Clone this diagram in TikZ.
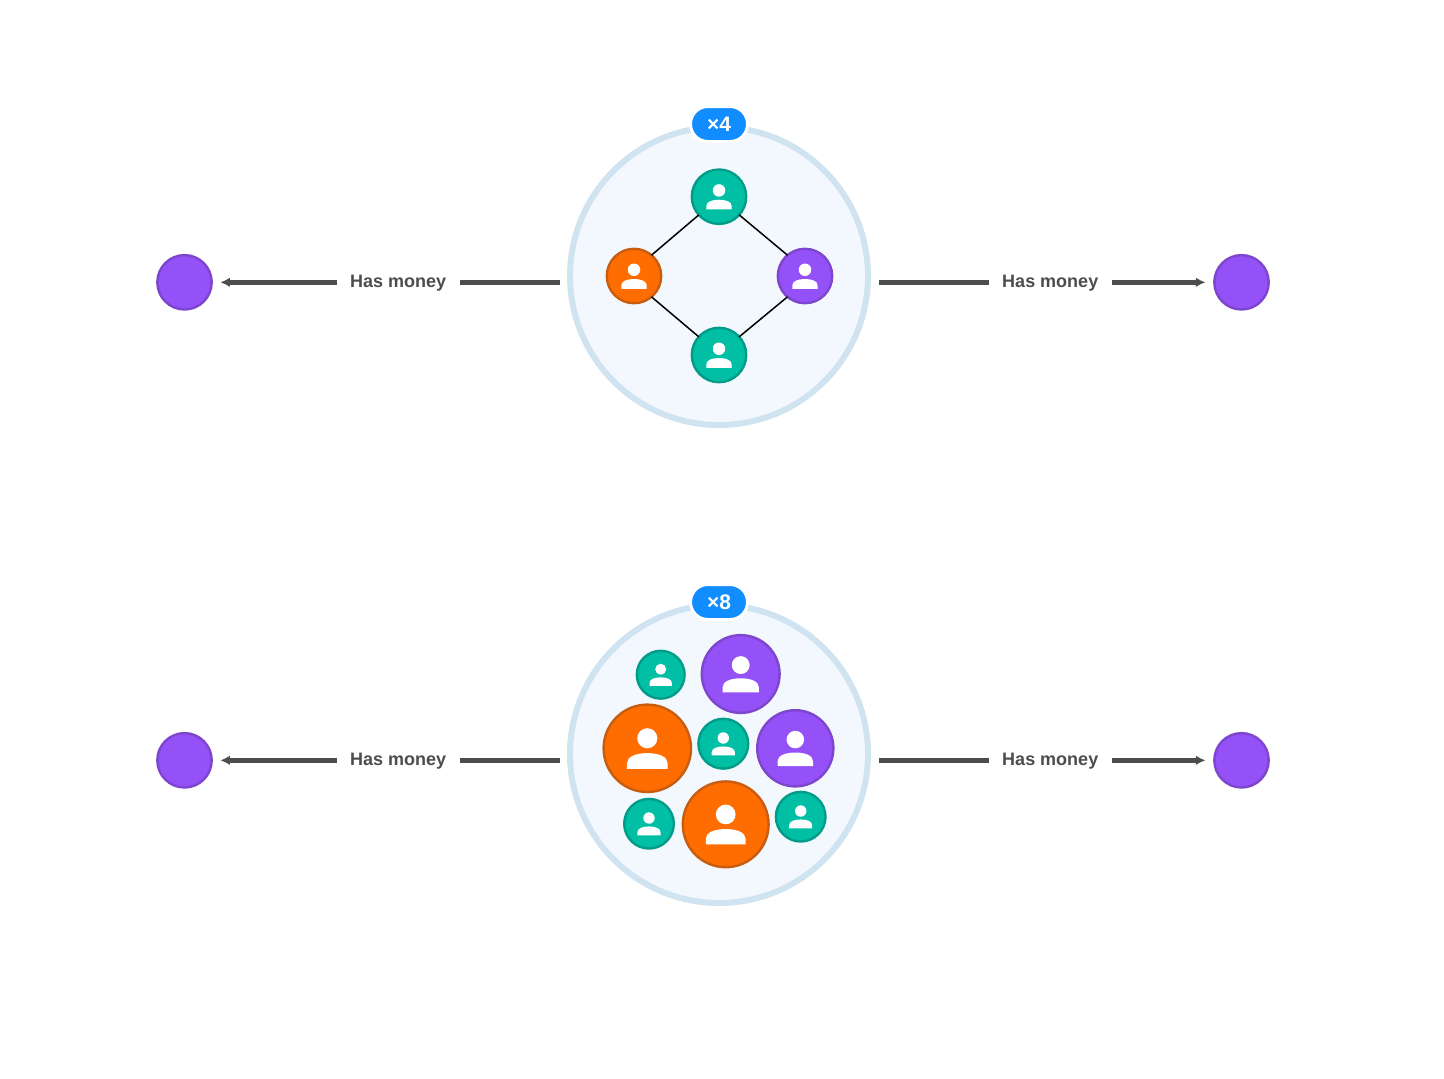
\documentclass[tikz,border=0pt]{standalone}
\usepackage{fontspec}
\setmainfont{Liberation Sans}
\usetikzlibrary{arrows.meta}
\definecolor{teal1}{HTML}{00BFA5}
\definecolor{teal2}{HTML}{009C88}
\definecolor{orange1}{HTML}{FF6D00}
\definecolor{orange2}{HTML}{C85C10}
\definecolor{purple1}{HTML}{9351F7}
\definecolor{purple2}{HTML}{7D46CC}
\definecolor{groupfill}{HTML}{F3F8FE}
\definecolor{groupline}{HTML}{D0E3F1}
\definecolor{badge}{HTML}{118DFF}
\definecolor{ink}{HTML}{4D4D4D}
\tikzset{
  px/.style={x=0.5pt,y=-0.5pt},
  dot/.style={circle,inner sep=0pt,outer sep=0pt,line width=1.2pt},
  tealdot/.style={dot,fill=teal1,draw=teal2},
  orangedot/.style={dot,fill=orange1,draw=orange2},
  purpledot/.style={dot,fill=purple1,draw=purple2},
  group/.style={circle,inner sep=0pt,outer sep=0pt,minimum size=149pt,fill=groupfill,draw=groupline,line width=3pt},
  badgebox/.style={rectangle,rounded corners=8.7pt,fill=badge,draw=white,line width=1.5pt,minimum width=28.5pt,minimum height=17.5pt,inner sep=0pt,text=white,font=\bfseries\fontsize{10.5}{12}\selectfont},
  link/.style={line width=0.75pt,draw=black},
  flow/.style={line width=2.2pt,draw=ink,-{Latex[length=4.8pt,width=4.8pt]}},
  flowlabel/.style={fill=white,inner sep=0pt,minimum width=61.5pt,minimum height=13pt,yshift=-0.4pt,text=ink,font=\bfseries\fontsize{9}{11}\selectfont},
}
\newcommand{\persondot}[5]{%
  \node[#5,minimum size=#4pt] (#1) at (#2,#3) {};
  \begin{scope}[shift={(#2,#3)},x=#4*0.5pt,y=-#4*0.5pt]
    \fill[white] (0,-0.23) circle [radius=0.23];
    \fill[white] (-0.465,0.47) -- (-0.465,0.34) .. controls (-0.465,0.19) and (-0.26,0.11) .. (0,0.11) .. controls (0.26,0.11) and (0.465,0.19) .. (0.465,0.34) -- (0.465,0.47) -- cycle;
  \end{scope}}
\begin{document}
\begin{tikzpicture}[px]
\useasboundingbox (0,0) rectangle (1444,1078);
% upper group
\node[group] (g1) at (719,276) {};
\node[badgebox] (b1) at (719,124) {×4};
\node[purpledot,minimum size=27.2pt] (tl) at (184.5,282.3) {};
\node[purpledot,minimum size=27.2pt] (tr) at (1241.5,282.3) {};
\coordinate (tls) at (559.5,282.3);
\coordinate (trs) at (879,282.3);
\coordinate (tle) at (220.3,282.3);
\coordinate (tre) at (1205.5,282.3);
\draw[flow] (tls) -- node[flowlabel,pos=0.476] (tll) {Has money} (tle);
\draw[flow] (trs) -- node[flowlabel,pos=0.5245] (trl) {Has money} (tre);
\persondot{a}{719}{196.7}{27.2}{tealdot}
\persondot{b}{634}{276}{27.2}{orangedot}
\persondot{c}{805}{276}{27.2}{purpledot}
\persondot{d}{719}{355}{27.2}{tealdot}
\draw[link] (a.222) -- (b.50);
\draw[link] (a.318) -- (c.130);
\draw[link] (b.310) -- (d.138);
\draw[link] (c.230) -- (d.42);
% lower group
\node[group] (g2) at (719,754) {};
\node[badgebox] (b2) at (719,602) {×8};
\node[purpledot,minimum size=27.2pt] (bl) at (184.5,760.3) {};
\node[purpledot,minimum size=27.2pt] (br) at (1241.5,760.3) {};
\coordinate (bls) at (559.5,760.3);
\coordinate (brs) at (879,760.3);
\coordinate (ble) at (220.3,760.3);
\coordinate (bre) at (1205.5,760.3);
\draw[flow] (bls) -- node[flowlabel,pos=0.476] (bll) {Has money} (ble);
\draw[flow] (brs) -- node[flowlabel,pos=0.5245] (brl) {Has money} (bre);
\persondot{e}{660.7}{674.7}{23.9}{tealdot}
\persondot{f}{740.7}{674}{38.9}{purpledot}
\persondot{g}{647.3}{748.3}{43.7}{orangedot}
\persondot{h}{723.3}{743.7}{24.9}{tealdot}
\persondot{i}{795.3}{748.3}{38.1}{purpledot}
\persondot{j}{649}{823.7}{24.8}{tealdot}
\persondot{k}{725.7}{824.3}{42.9}{orangedot}
\persondot{l}{800.7}{816.7}{24.8}{tealdot}
\end{tikzpicture}
\end{document}
